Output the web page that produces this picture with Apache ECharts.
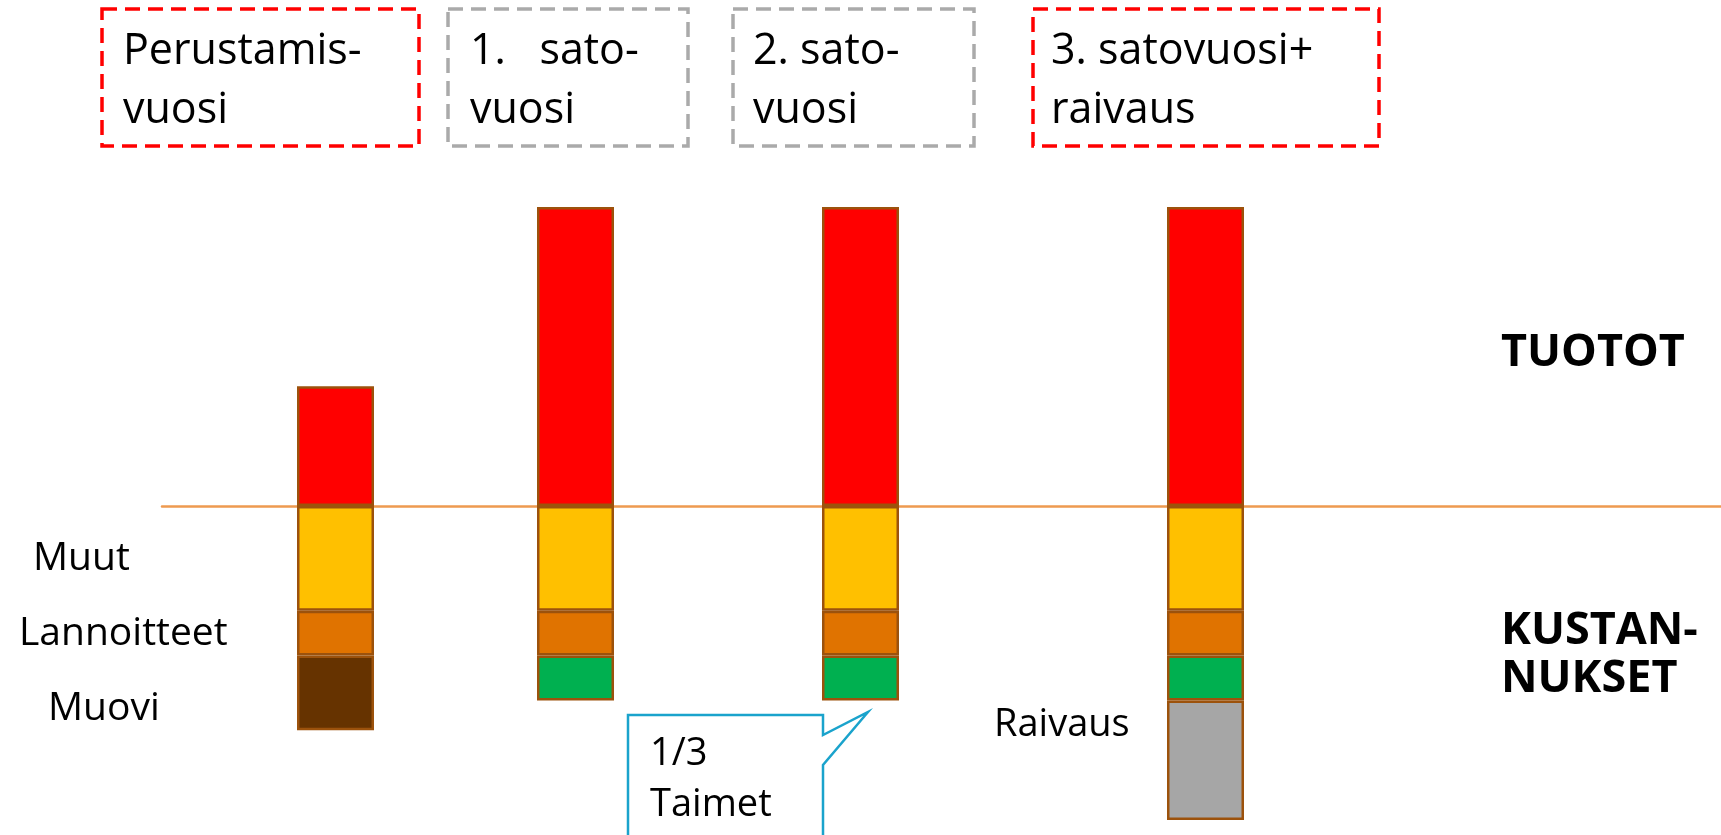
<!DOCTYPE html>
<html>
<head>
<meta charset="utf-8">
<script src="https://cdn.jsdelivr.net/npm/echarts@6/dist/echarts.min.js"></script>
<style>
  html, body { margin: 0; padding: 0; background: #fff; }
  #main { width: 1721px; height: 835px; }
</style>
</head>
<body>
<div id="main"></div>
<script>
// vuodet ja palkkien arvot (yksikkö suhteellinen)
var years = ['Perustamisvuosi', '1. satovuosi', '2. satovuosi', '3. satovuosi + raivaus'];
var headerLines = [['Perustamis-', 'vuosi'], ['1.   sato-', 'vuosi'], ['2. sato-', 'vuosi'], ['3. satovuosi+', 'raivaus']];
var tuotot      = [4, 10, 10, 10];
var muut        = [-3.5, -3.5, -3.5, -3.5];
var lannoitteet = [-1.5, -1.5, -1.5, -1.5];
var muovi       = [-2.5, null, null, null];
var taimet      = [null, -1.5, -1.5, -1.5];
var raivaus     = [null, null, null, -4];

var dom = document.getElementById('main');
var myChart = echarts.init(dom);

var FONT = '"Open Sans", "Noto Sans", sans-serif';
var barLefts = [297, 537, 822, 1167];
var barW = 77;
var gTop = 177, gHeight = 660;
var edge = '#9C520C';

var layers = [
    {name: 'Tuotot', data: tuotot, color: '#FF0000'},
    {name: 'Muut', data: muut, color: '#FFC000'},
    {name: 'Lannoitteet', data: lannoitteet, color: '#E07300'},
    {name: 'Muovi', data: muovi, color: '#663300'},
    {name: 'Taimet', data: taimet, color: '#00B050'},
    {name: 'Raivaus', data: raivaus, color: '#A6A6A6'}
];

var grid = [], xAxis = [], yAxis = [], series = [];
years.forEach(function (y, i) {
    grid.push({left: barLefts[i], width: barW, top: gTop, height: gHeight});
    xAxis.push({type: 'category', gridIndex: i, data: [y], show: false});
    yAxis.push({type: 'value', gridIndex: i, min: -11, max: 11, show: false});
    layers.forEach(function (l) {
        if (l.data[i] == null) return;
        series.push({
            name: l.name, type: 'bar', xAxisIndex: i, yAxisIndex: i,
            stack: 's' + i, barWidth: '100%', z: 3,
            itemStyle: {color: l.color, borderColor: edge, borderWidth: 2.5},
            data: [l.data[i]]
        });
    });
});
// nollaviiva koko leveydeltä
grid.push({left: 162, right: 0, top: gTop, height: gHeight});
xAxis.push({type: 'category', gridIndex: 4, data: [''],
    axisLine: {show: true, onZero: true, lineStyle: {color: '#EE9A50', width: 2.5}},
    axisTick: {show: false}, axisLabel: {show: false}});
yAxis.push({type: 'value', gridIndex: 4, min: -11, max: 11, show: false});

function txt(s, x, y, size, weight) {
    return {type: 'text', x: x, y: y, z: 10,
        style: {text: s, fill: '#000', font: (weight || 'normal') + ' ' + size + 'px ' + FONT, verticalAlign: 'middle'}};
}

var graphic = [];
var boxes = [[102, 317, '#FF0000'], [448, 240, '#AAAAAA'], [733, 241, '#AAAAAA'], [1033, 346, '#FF0000']];
var textLefts = [123, 470, 753, 1051];
boxes.forEach(function (b, i) {
    graphic.push({type: 'rect', shape: {x: b[0], y: 9, width: b[1], height: 137},
        style: {fill: 'none', stroke: b[2], lineWidth: 3.5, lineDash: [15, 8]}});
    graphic.push(txt(headerLines[i][0], textLefts[i], 52, 43));
    graphic.push(txt(headerLines[i][1], textLefts[i], 111, 43));
});
graphic.push(txt(layers[1].name, 33, 559, 39));
graphic.push(txt(layers[2].name, 19, 634, 39));
graphic.push(txt(layers[3].name, 48, 709, 39));
graphic.push(txt(layers[5].name, 994, 725, 38));
graphic.push(txt('TUOTOT', 1501, 353, 45, 'bold'));
graphic.push(txt('KUSTAN-', 1501, 631, 45, 'bold'));
graphic.push(txt('NUKSET', 1501, 679, 45, 'bold'));
// puhekupla
graphic.push({type: 'polygon', z: 9,
    shape: {points: [[628, 840], [628, 715], [823, 715], [823, 735], [868, 712], [823, 765], [823, 840]]},
    style: {fill: '#fff', stroke: '#1AA3CC', lineWidth: 2.5}});
graphic.push(txt('1/3', 650, 754, 38));
graphic.push(txt(layers[4].name, 650, 805, 38));

option = {
    backgroundColor: '#fff',
    animation: false,
    grid: grid,
    xAxis: xAxis,
    yAxis: yAxis,
    series: series,
    graphic: graphic
};

if (option && typeof option === "object") {
    myChart.setOption(option, true);
}
</script>
</body>
</html>
